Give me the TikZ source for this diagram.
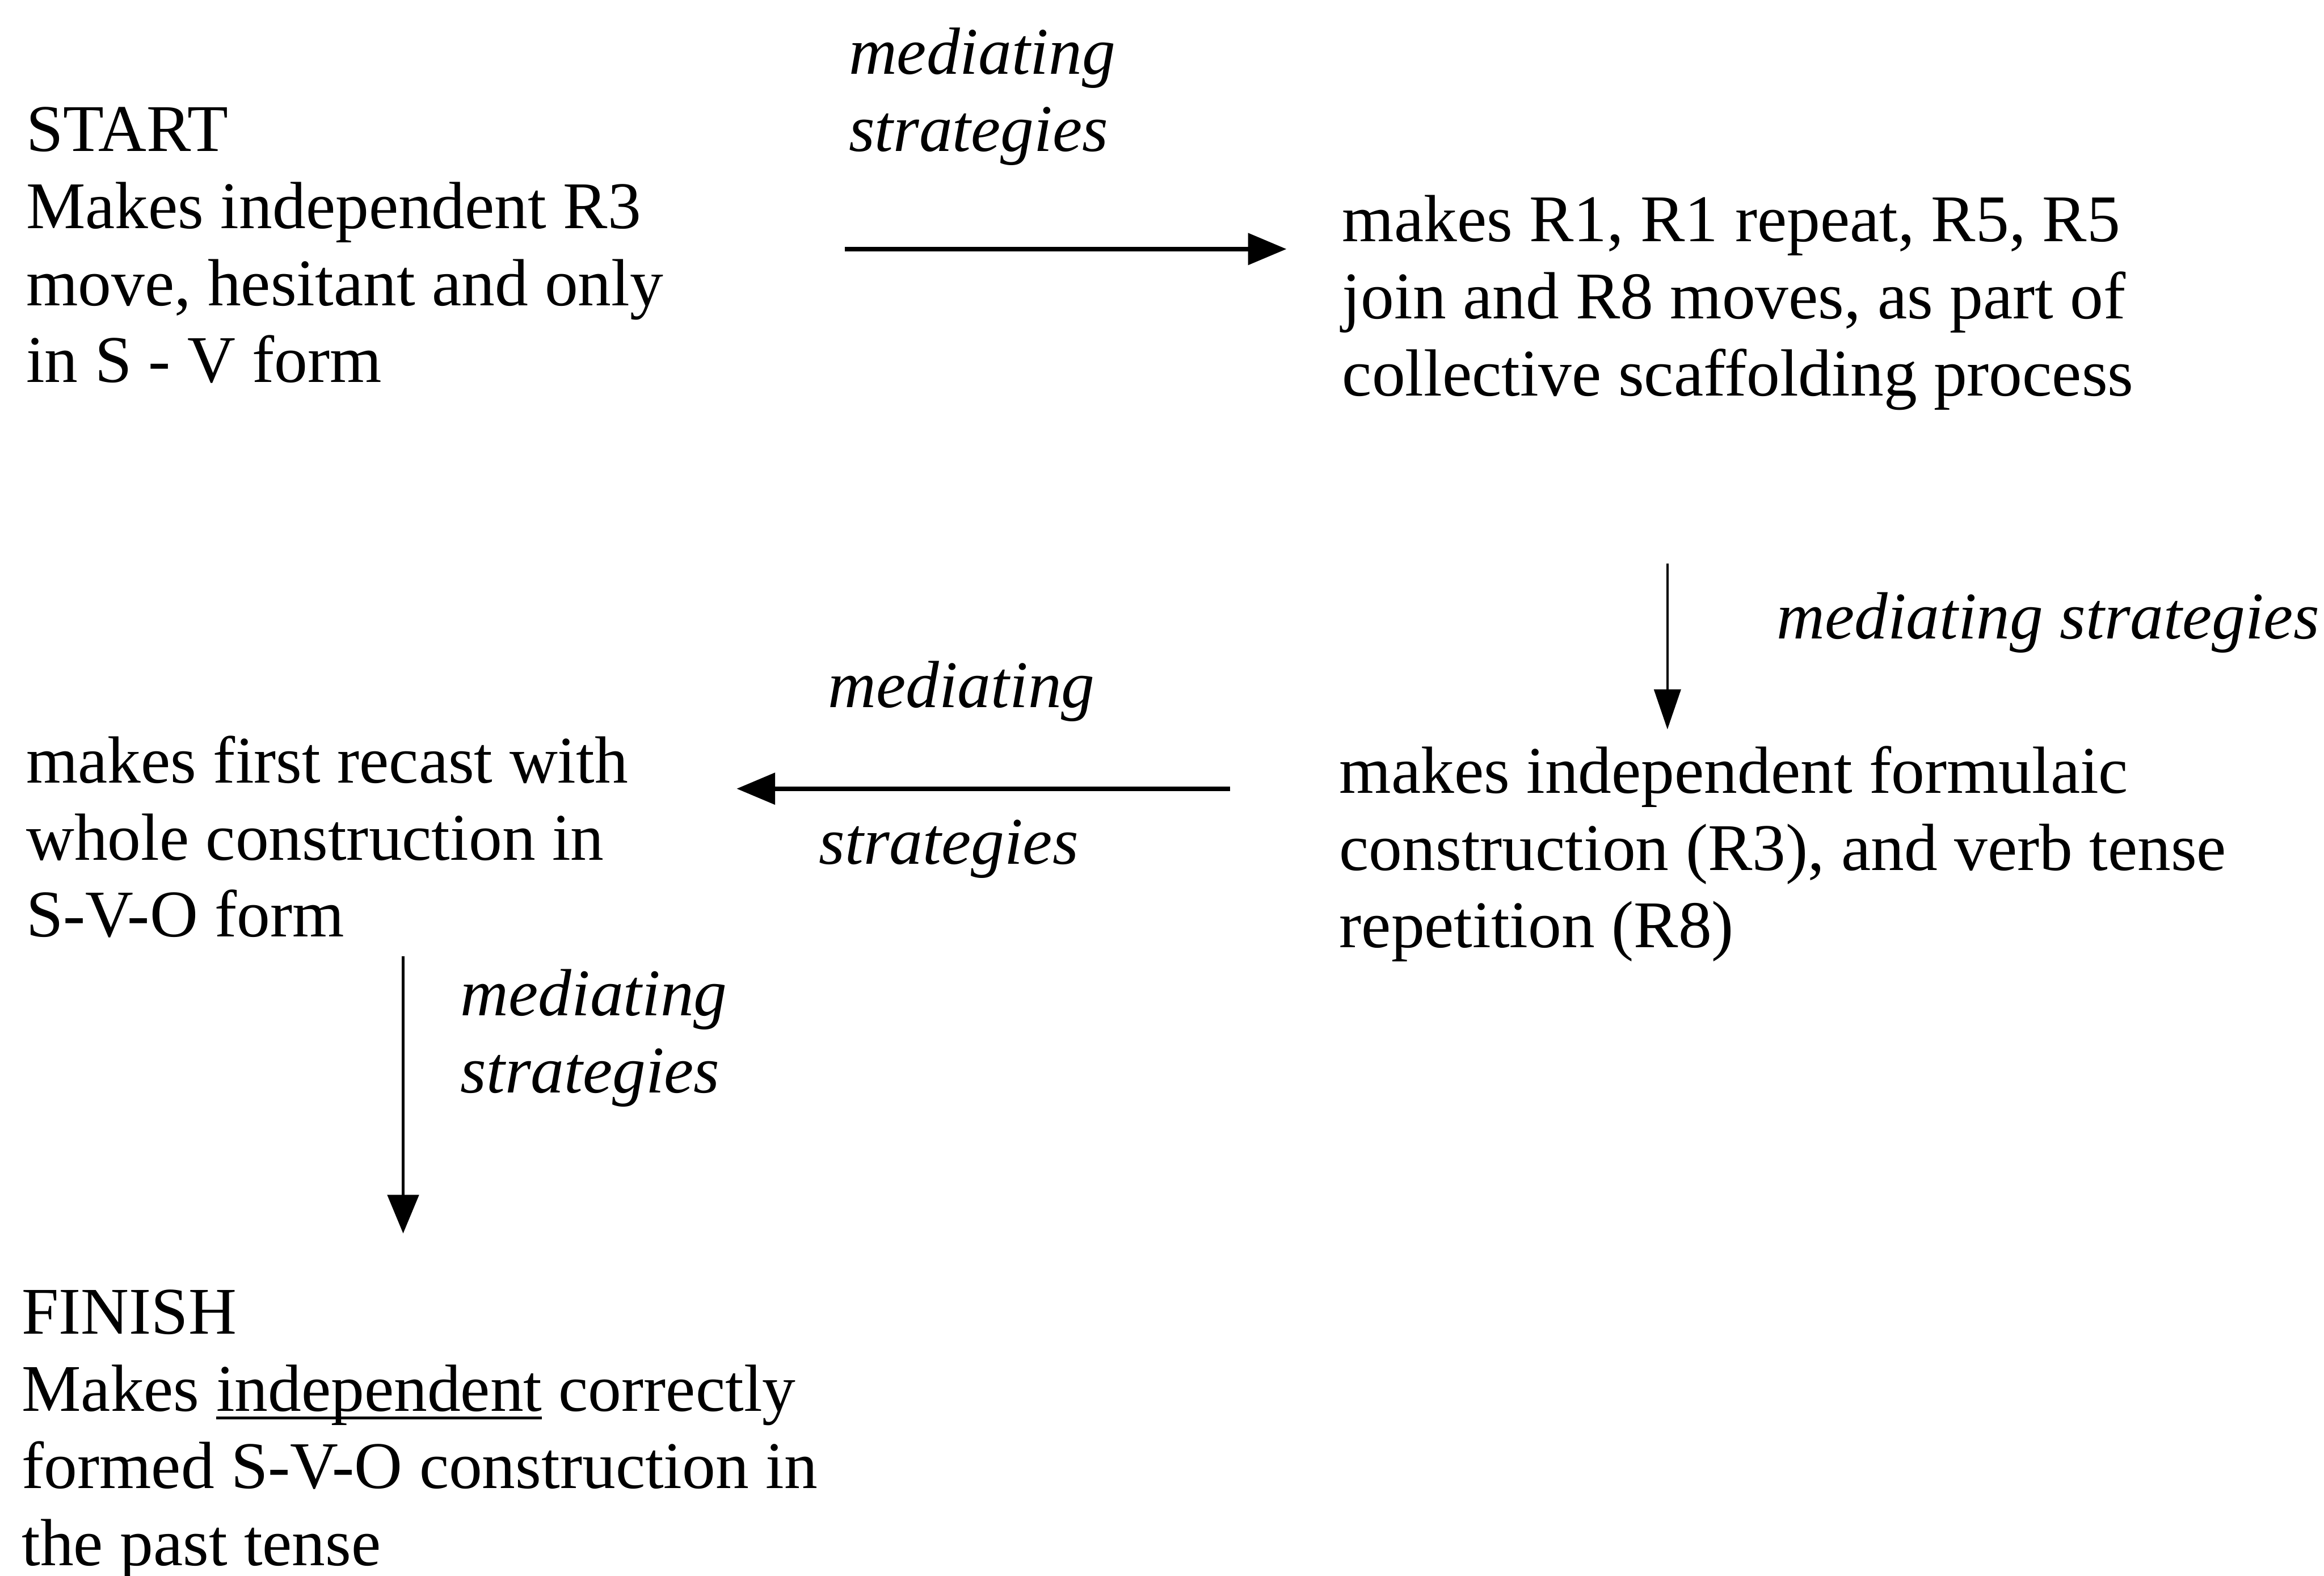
\documentclass[tikz,border=0pt]{standalone}
\usepackage{fontspec}
\setmainfont{Liberation Serif}
\usetikzlibrary{arrows.meta,positioning}

\newcommand{\diagfont}{\fontsize{12.8}{14.8}\selectfont}
\newcommand{\ulword}[1]{\setbox0\hbox{#1}\rlap{\rule[-1.6pt]{\wd0}{0.55pt}}\box0\relax}

\begin{document}
\begin{tikzpicture}[
    stage/.style={anchor=base west, align=left, inner sep=0pt, font=\diagfont},
    strat/.style={anchor=base west, align=left, inner sep=0pt, font=\diagfont\itshape},
    arrow/.style={-{Triangle[length=2.6mm,width=2.1mm]}, line width=0.85pt},
    thinarrow/.style={-{Triangle[length=2.7mm,width=1.8mm]}, line width=0.45pt}
]
\useasboundingbox (0,0) rectangle (15.68,-10.63);

% Stages (placed at the baseline of their last line)
\node[stage] (start) at (0.17,-2.58) {START\\Makes independent R3\\move, hesitant and only\\in S - V form};
\node[stage] (scaf) at (9.05,-2.67) {makes R1, R1 repeat, R5, R5\\join and R8 moves, as part of\\collective scaffolding process};
\node[stage] (formula) at (9.03,-6.39) {makes independent formulaic\\construction (R3), and verb tense\\repetition (R8)};
\node[stage] (recast) at (0.17,-6.32) {makes first recast with\\whole construction in\\S-V-O form};
\node[stage] (finish) at (0.14,-10.56) {FINISH\\Makes \ulword{independent} correctly\\formed S-V-O construction in\\the past tense};

% Arrow ends
\coordinate (a1s) at (5.70,-1.68);
\coordinate (a1e) at (8.68,-1.68);
\coordinate (a2s) at (11.25,-3.80);
\coordinate (a2e) at (11.25,-4.92);
\coordinate (a3s) at (8.30,-5.32);
\coordinate (a3e) at (4.97,-5.32);
\coordinate (a4s) at (2.72,-6.45);
\coordinate (a4e) at (2.72,-8.32);

% Arrows
\draw[arrow] (a1s) -- (a1e);
\draw[thinarrow] (a2s) -- (a2e);
\draw[arrow] (a3s) -- (a3e);
\draw[arrow, line width=0.6pt] (a4s) -- (a4e);

% Labels
\node[strat] (med1) at (5.72,-1.02) {mediating\\strategies};
\node[strat] (med2) at (11.98,-4.31) {mediating strategies};
\node[strat] (med3) at (5.58,-4.77) {mediating};
\node[strat] (str3) at (5.52,-5.83) {strategies};
\node[strat] (med4) at (3.10,-7.37) {mediating\\strategies};

\end{tikzpicture}
\end{document}
